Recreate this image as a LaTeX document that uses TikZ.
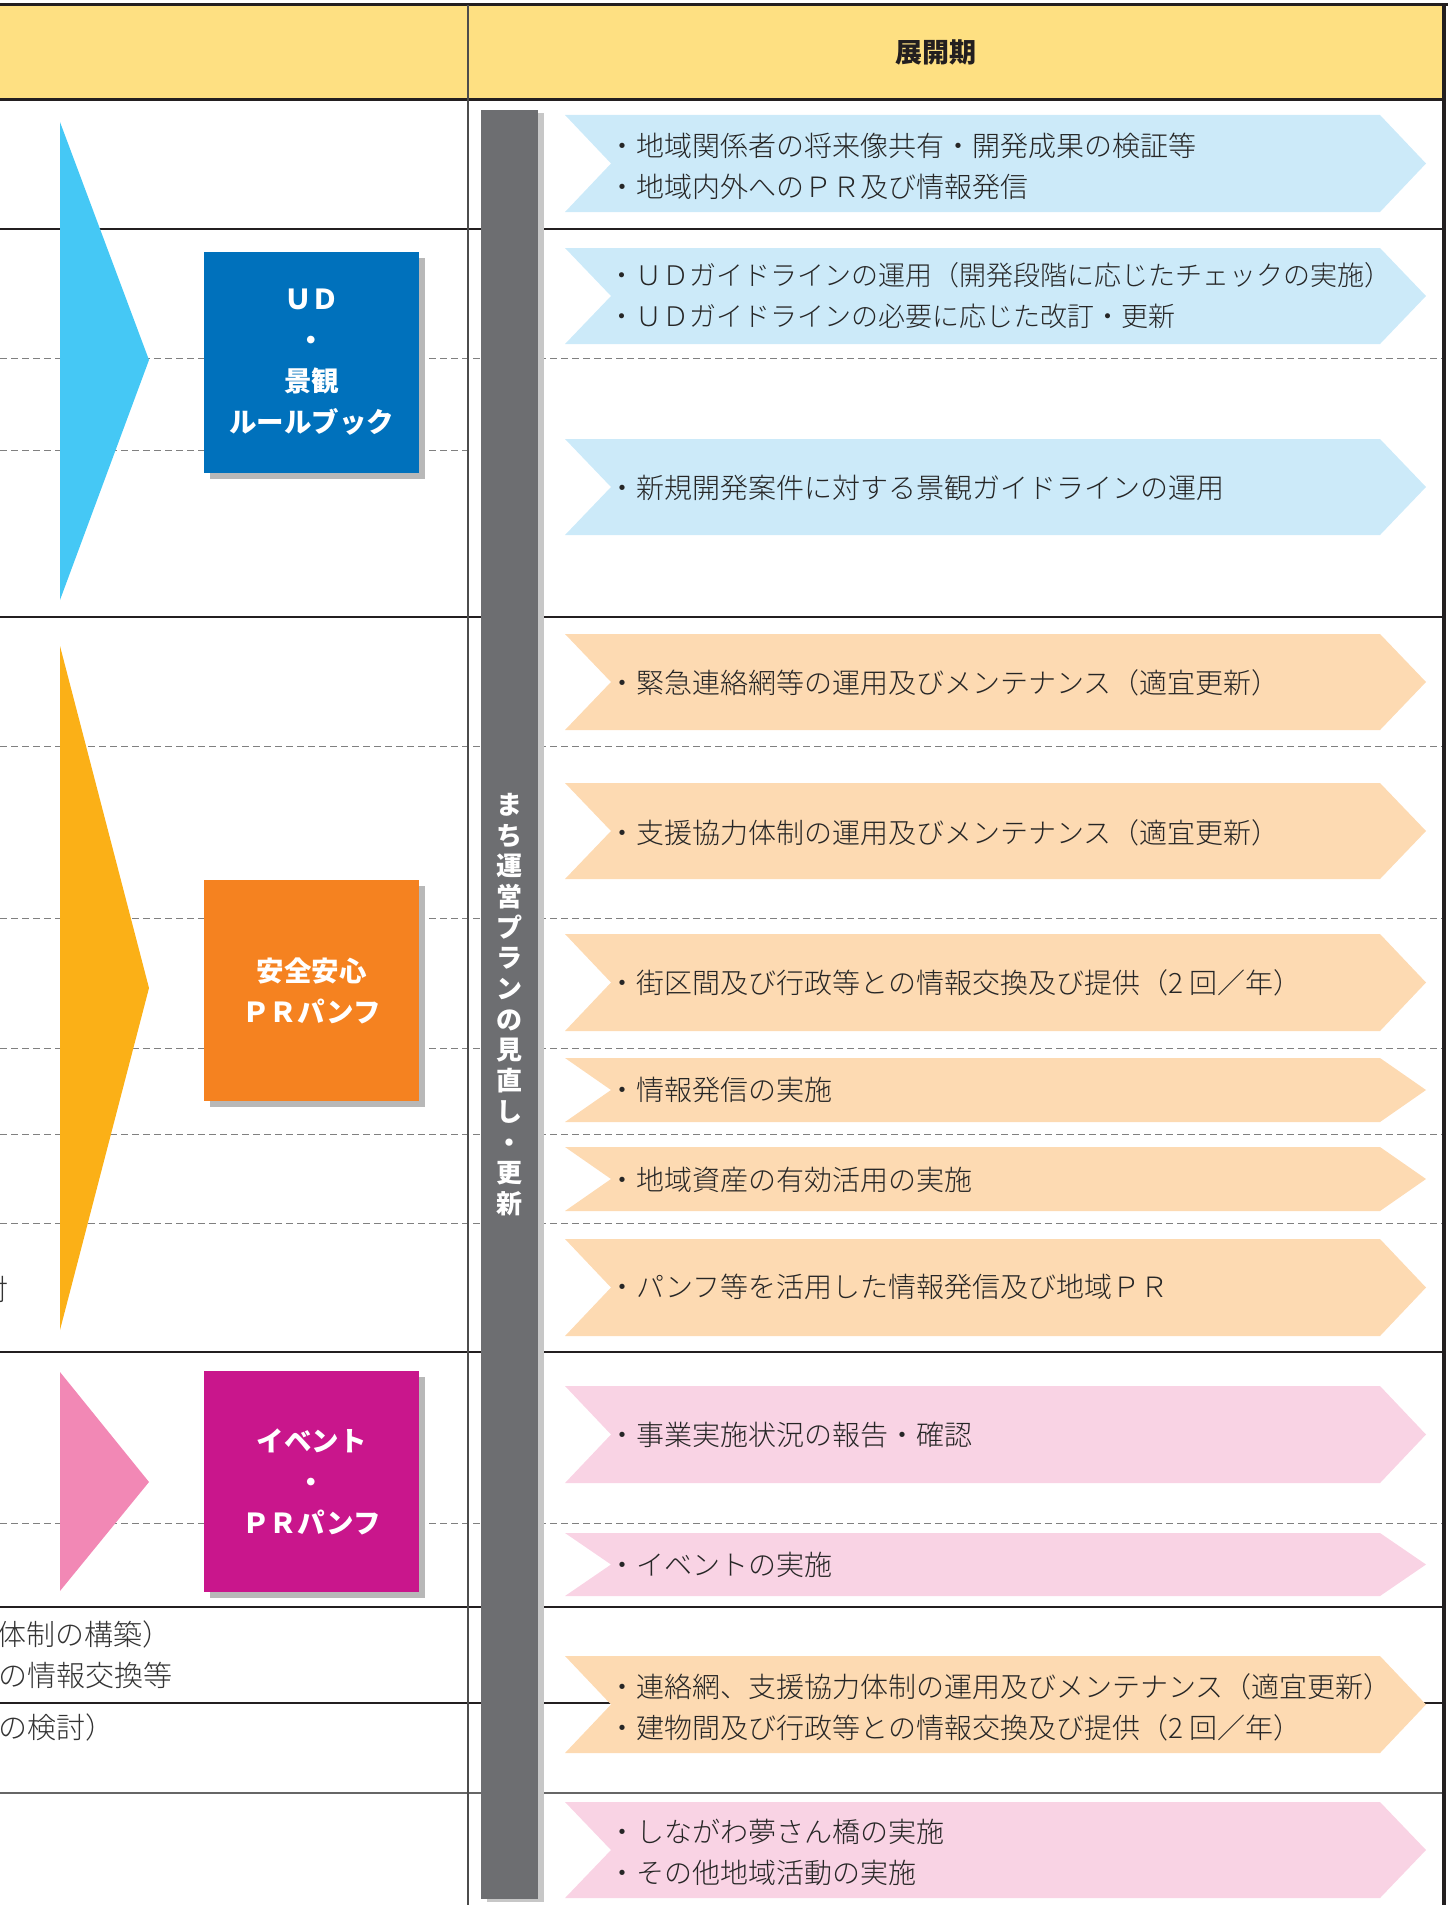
\documentclass[tikz,border=0pt]{standalone}
\usepackage{fontspec}
\setmainfont{Noto Sans CJK JP}
\newfontfamily\lightjp{Noto Sans CJK JP Light}
\usepackage{tikz}
\usetikzlibrary{shadows}
\usetikzlibrary{positioning, calc}
\usepackage{xcolor}
\definecolor{headyellow}{RGB}{254,224,130}
\definecolor{bargray}{RGB}{109,110,113}
\definecolor{udblue}{RGB}{0,113,188}
\definecolor{safeorange}{RGB}{245,130,32}
\definecolor{evmagenta}{RGB}{201,22,140}
\definecolor{triblue}{RGB}{69,200,245}
\definecolor{triorange}{RGB}{251,176,23}
\definecolor{tripink}{RGB}{242,136,181}
\definecolor{chevblue}{RGB}{204,234,249}
\definecolor{chevpeach}{RGB}{253,218,178}
\definecolor{chevpink}{RGB}{249,211,228}
\definecolor{rulecol}{RGB}{35,31,32}
\newcommand{\chev}[3]{\fill[#1] (565,#2) -- (1380,#2) -- (1426,{(#2+#3)/2}) -- (1380,#3) -- (565,#3) -- (611,{(#2+#3)/2}) -- cycle;}

\begin{document}
\begin{tikzpicture}[x=0.5pt, y=-0.5pt]

                \tikzset{% This is the style settings for lines, plates and texts
                    sepline/.style={draw=rulecol, line width=1.1pt},
                    dashline/.style={draw=black!50, line width=0.5pt, dash pattern=on 3.5pt off 2pt},
                    plate/.style={rectangle, fill=#1, minimum width=107.5pt, minimum height=110.5pt,
                                        inner sep=0pt, text=white, align=center,
                                        font=\bfseries\fontsize{13.75}{20.5}\selectfont,
                                        general shadow={fill=black!28, shadow xshift=3pt, shadow yshift=-3pt}},
                    item/.style={anchor=west, inner sep=0pt, align=left, text=black!85,
                                        font=\lightjp\fontsize{14}{20.5}\selectfont},
                    lefttext/.style={anchor=west, inner sep=0pt, text=black!80,
                                        font=\lightjp\fontsize{14.5}{20}\selectfont}}

                    \useasboundingbox (0,0) rectangle (1448,1905);
                    \clip (0,0) rectangle (1448,1905);

                    % header
                    \fill [headyellow] (0,5) rectangle (1444,100);
                    \node [font=\bfseries\fontsize{13.5}{15}\selectfont, text=rulecol] (phase) at (936,52) {展開期};

                    \draw [dashline] (0,358) -- (1444,358);
                    \draw [dashline] (0,450) -- (468,450);
                    \draw [dashline] (0,746) -- (1444,746);
                    \draw [dashline] (0,918) -- (1444,918);
                    \draw [dashline] (0,1048) -- (1444,1048);
                    \draw [dashline] (0,1134) -- (1444,1134);
                    \draw [dashline] (0,1223) -- (1444,1223);
                    \draw [dashline] (0,1523) -- (1444,1523);

                    \draw [sepline, line width=1.5pt] (0,5) -- (1448,5);
                    \draw [sepline, line width=1.5pt] (0,100) -- (1444,100);
                    \draw [sepline] (0,229) -- (1444,229);
                    \draw [sepline] (0,617) -- (1444,617);
                    \draw [sepline] (0,1352) -- (1444,1352);
                    \draw [sepline] (0,1607) -- (1444,1607);
                    \draw [sepline] (0,1703) -- (1444,1703);
                    \draw [sepline, draw=black!60] (0,1793) -- (1444,1793);
                    \draw [draw=black!70, line width=0.7pt] (468,5) -- (468,1905);
                    \draw [sepline, line width=1.6pt] (1444,5) -- (1444,1905);

                    \fill [triblue] (60,122) -- (149,360) -- (60,600) -- cycle;
                    \fill [triorange] (60,646) -- (149,988) -- (60,1330) -- cycle;
                    \fill [tripink] (60,1372) -- (149,1482) -- (60,1591) -- cycle;

                    \node [plate=udblue](ud) at (311.5,362.5) {ＵＤ\\・\\景観\\ルールブック};
                    \node [plate=safeorange](safe) at (311.5,990.5) {安全安心\\ＰＲパンフ};
                    \node [plate=evmagenta](event) at (311.5,1481.5) {イベント\\・\\ＰＲパンフ};

                    \node [rectangle, fill=bargray, minimum width=28.5pt, minimum height=894.5pt,
                           inner sep=0pt, text=white, align=center,
                           font=\bfseries\fontsize{13}{15.35}\selectfont,
                           general shadow={fill=black!22, shadow xshift=3pt, shadow yshift=-1.5pt}]
                           (plan) at (509.5,1004.5) {ま\\ち\\運\\営\\プ\\ラ\\ン\\の\\見\\直\\し\\・\\更\\新};

                    \chev{chevblue}{115}{212}
                    \chev{chevblue}{248}{344}
                    \chev{chevblue}{439}{535}
                    \chev{chevpeach}{634}{730}
                    \chev{chevpeach}{783}{879}
                    \chev{chevpeach}{934}{1031}
                    \chev{chevpeach}{1058}{1122}
                    \chev{chevpeach}{1147}{1211}
                    \chev{chevpeach}{1239}{1336}
                    \chev{chevpink}{1386}{1483}
                    \chev{chevpink}{1533}{1596}
                    \chev{chevpeach}{1656}{1753}
                    \chev{chevpink}{1802}{1898}

                    \node [item](it_1) at (608,166) {・地域関係者の将来像共有・開発成果の検証等\\・地域内外へのＰＲ及び情報発信};
                    \node [item, font=\lightjp\fontsize{13.5}{20.5}\selectfont](it_2) at (608,296) {・ＵＤガイドラインの運用（開発段階に応じたチェックの実施）\\・ＵＤガイドラインの必要に応じた改訂・更新};
                    \node [item](it_3) at (608,488) {・新規開発案件に対する景観ガイドラインの運用};
                    \node [item](it_4) at (608,683) {・緊急連絡網等の運用及びメンテナンス（適宜更新）};
                    \node [item](it_5) at (608,833) {・支援協力体制の運用及びメンテナンス（適宜更新）};
                    \node [item](it_6) at (608,983) {・街区間及び行政等との情報交換及び提供（2 回／年）};
                    \node [item](it_7) at (608,1090) {・情報発信の実施};
                    \node [item](it_8) at (608,1180) {・地域資産の有効活用の実施};
                    \node [item](it_9) at (608,1287) {・パンフ等を活用した情報発信及び地域ＰＲ};
                    \node [item](it_10) at (608,1435) {・事業実施状況の報告・確認};
                    \node [item](it_11) at (608,1565) {・イベントの実施};
                    \node [item](it_12) at (608,1707) {・連絡網、支援協力体制の運用及びメンテナンス（適宜更新）\\・建物間及び行政等との情報交換及び提供（2 回／年）};
                    \node [item](it_13) at (608,1852) {・しながわ夢さん橋の実施\\・その他地域活動の実施};

                    \node [lefttext, anchor=east](l_0) at (9,1289) {討};
                    \node [lefttext](l_1) at (-3,1634) {体制の構築）};
                    \node [lefttext](l_2) at (-2,1675) {の情報交換等};
                    \node [lefttext](l_3) at (-2,1727) {の検討）};

            \end{tikzpicture}
\end{document}
